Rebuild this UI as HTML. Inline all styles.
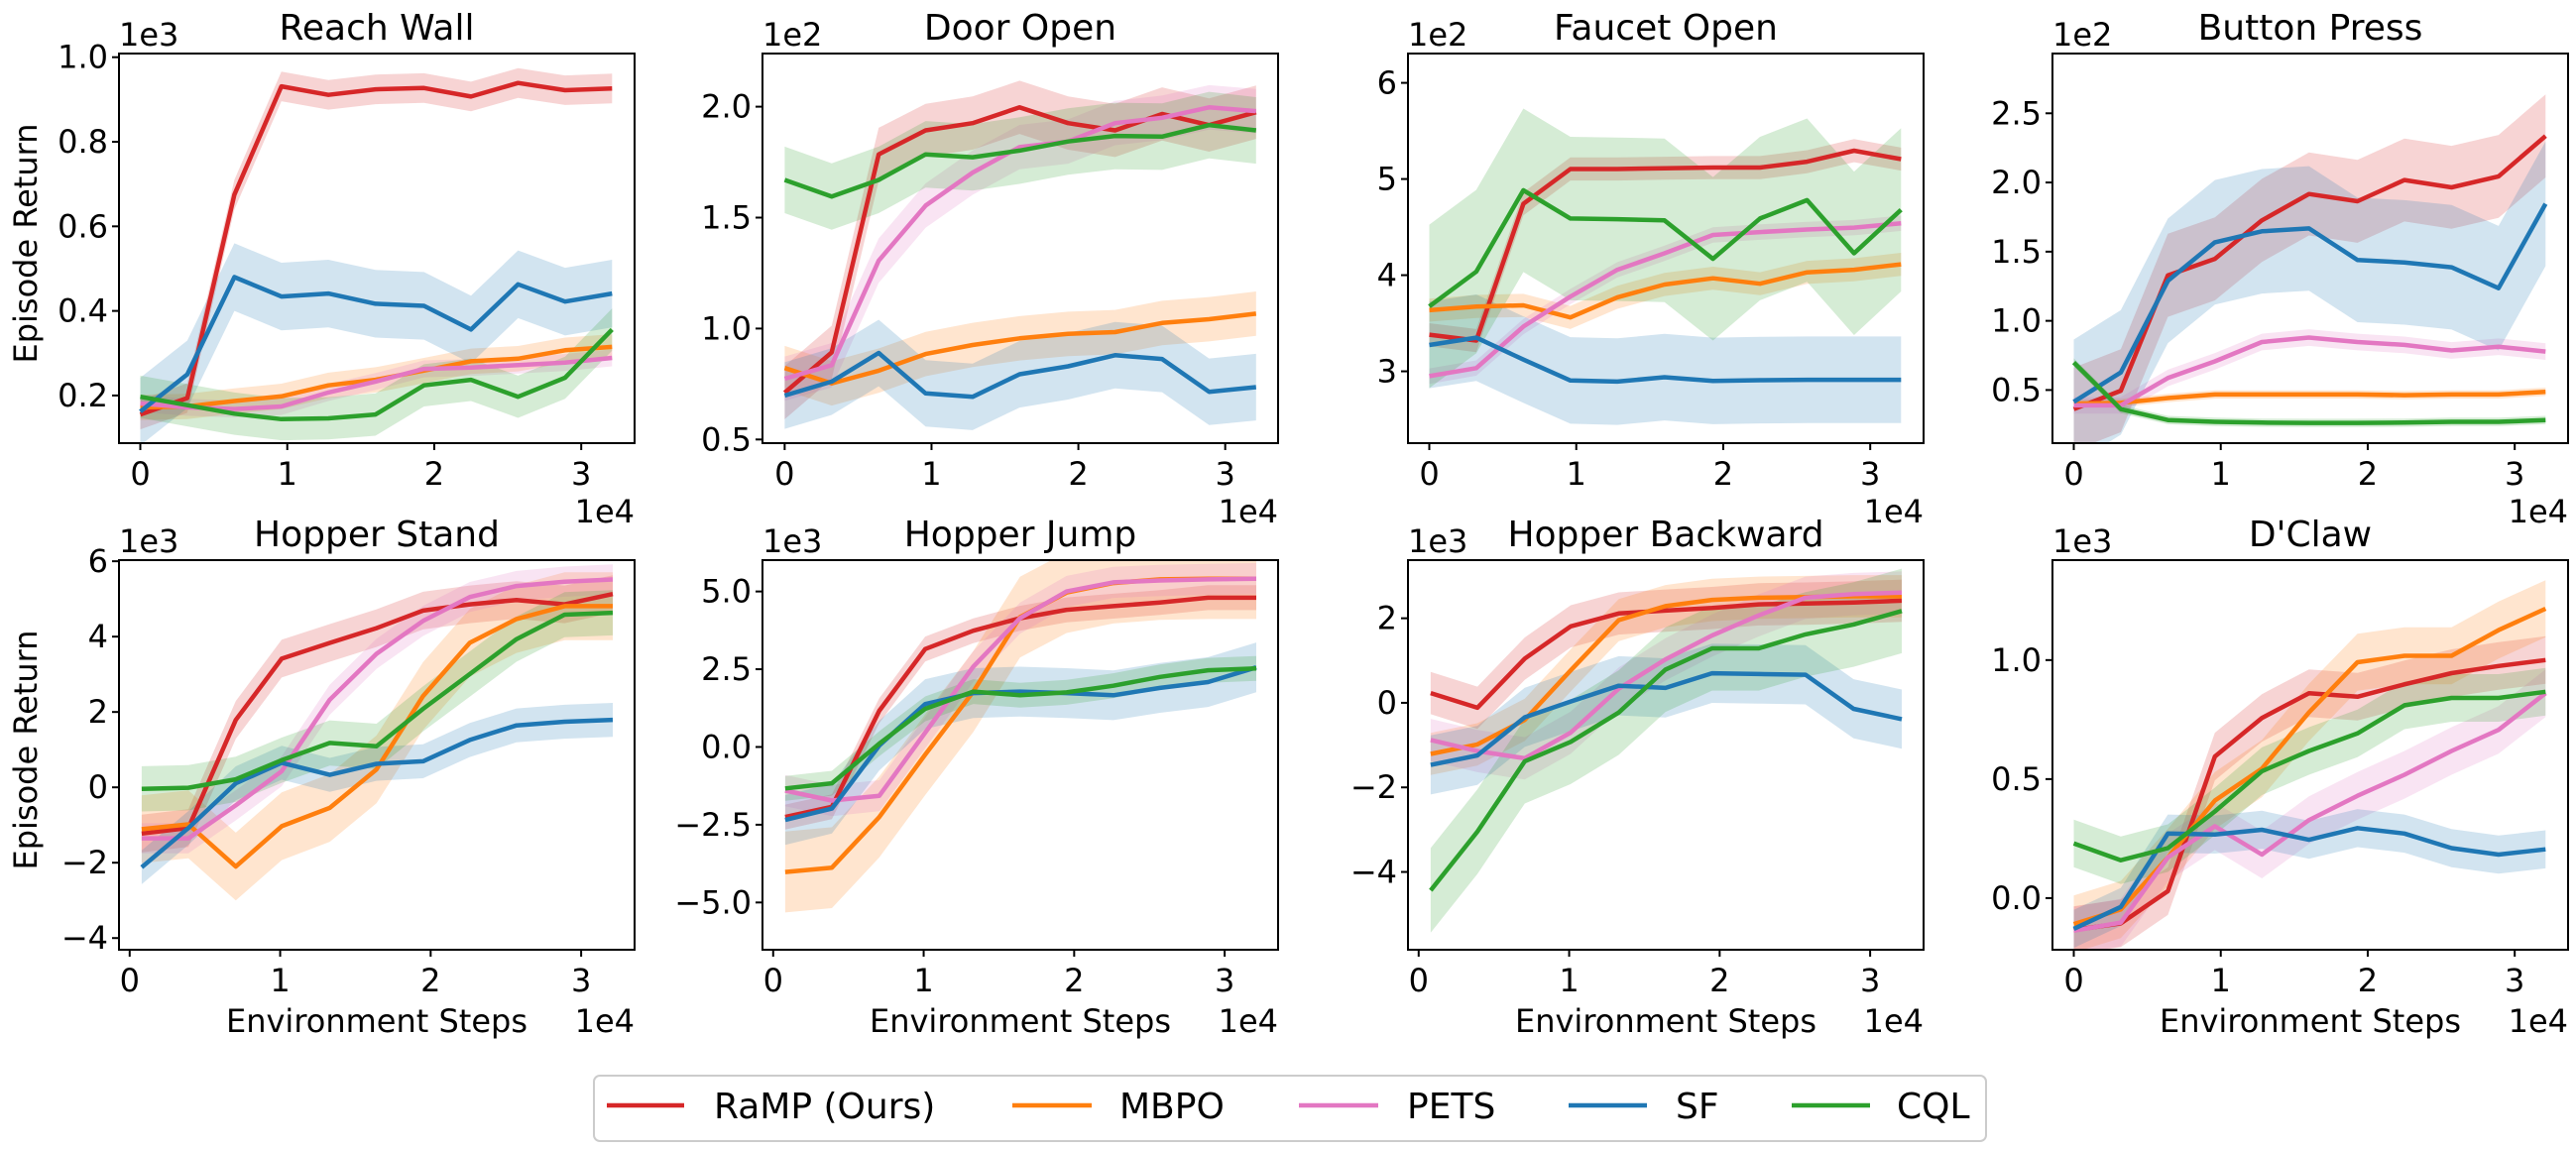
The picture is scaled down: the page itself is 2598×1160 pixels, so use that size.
<!DOCTYPE html>
<html><head><meta charset="utf-8">
<style>
html,body{margin:0;padding:0;background:#fff;}
svg{display:block;font-family:"DejaVu Sans","Liberation Sans",sans-serif;}
</style></head>
<body>
<svg id="fig" width="2598" height="1160" viewBox="0 0 2598 1160" xmlns="http://www.w3.org/2000/svg">
<rect x="0" y="0" width="2598" height="1160" fill="#ffffff"/>
<g id="legend">
<rect x="599" y="1085" width="1404" height="66" rx="6" fill="#fff" stroke="#cccccc" stroke-width="2"/>
<g><line x1="612" y1="1115" x2="690" y2="1115" stroke="#d62728" stroke-width="4.5"/><text x="720" y="1128" font-size="36">RaMP (Ours)</text></g>
<g><line x1="1021" y1="1115" x2="1101" y2="1115" stroke="#ff7f0e" stroke-width="4.5"/><text x="1129" y="1128" font-size="36">MBPO</text></g>
<g><line x1="1310" y1="1115" x2="1390" y2="1115" stroke="#e377c2" stroke-width="4.5"/><text x="1419" y="1128" font-size="36">PETS</text></g>
<g><line x1="1582" y1="1115" x2="1661" y2="1115" stroke="#1f77b4" stroke-width="4.5"/><text x="1690" y="1128" font-size="36">SF</text></g>
<g><line x1="1807" y1="1115" x2="1886" y2="1115" stroke="#2ca02c" stroke-width="4.5"/><text x="1913" y="1128" font-size="36">CQL</text></g>
</g>
</svg>
<script>
// ---- data (x in units of 1e4 steps) ----
const stepsA = [0,0.32,0.64,0.96,1.28,1.6,1.93,2.25,2.57,2.89,3.21];
const stepsHopper = [0.08,0.39,0.705,1.01,1.33,1.64,1.95,2.26,2.57,2.89,3.21];
const methods = ["RaMP (Ours)","MBPO","PETS","SF","CQL"];

// Reach Wall (x1e3)
const reachRamp = [0.155,0.194,0.675,0.931,0.911,0.924,0.927,0.907,0.939,0.922,0.926];
const reachMbpo = [0.172,0.174,0.187,0.198,0.224,0.237,0.259,0.281,0.287,0.307,0.315];
const reachPets = [0.181,0.172,0.168,0.174,0.207,0.233,0.263,0.266,0.272,0.278,0.289];
const reachSf = [0.162,0.25,0.48,0.434,0.441,0.417,0.412,0.356,0.463,0.422,0.441];
const reachCql = [0.197,0.177,0.157,0.144,0.146,0.155,0.224,0.237,0.197,0.242,0.356];
const reachBands = [0.035,0.03,0.02,0.08,0.05];
// Door Open (x1e2)
const doorRamp = [0.711,0.893,1.785,1.893,1.926,1.997,1.926,1.893,1.967,1.917,1.975];
const doorMbpo = [0.822,0.753,0.81,0.885,0.926,0.956,0.976,0.984,1.025,1.042,1.067];
const doorPets = [0.774,0.835,1.306,1.554,1.703,1.818,1.843,1.926,1.95,1.997,1.98];
const doorSf = [0.698,0.761,0.89,0.708,0.692,0.794,0.83,0.88,0.863,0.715,0.736];
const doorCql = [1.67,1.595,1.67,1.785,1.772,1.802,1.843,1.868,1.865,1.917,1.893];
const doorBands = [0.12,0.1,0.1,0.15,0.15];
// Faucet Open (x1e2)
const faucetRamp = [3.381,3.32,4.742,5.104,5.104,5.112,5.119,5.119,5.18,5.295,5.207];
const faucetMbpo = [3.636,3.674,3.686,3.56,3.77,3.903,3.968,3.911,4.029,4.056,4.113];
const faucetPets = [2.95,3.034,3.465,3.777,4.056,4.227,4.418,4.448,4.475,4.494,4.54];
const faucetSf = [3.274,3.35,3.122,2.905,2.893,2.939,2.9,2.908,2.912,2.912,2.912];
const faucetCql = [3.675,4.037,4.883,4.589,4.582,4.57,4.17,4.589,4.78,4.227,4.68];
const faucetBands = [0.12,0.12,0.08,0.45,0.85];
// Button Press (x1e2)
const buttonRamp = [0.362,0.495,1.329,1.448,1.726,1.917,1.864,2.018,1.965,2.044,2.336];
const buttonMbpo = [0.402,0.407,0.442,0.468,0.468,0.468,0.468,0.463,0.468,0.468,0.487];
const buttonPets = [0.389,0.389,0.587,0.707,0.847,0.879,0.847,0.826,0.786,0.813,0.778];
const buttonSf = [0.415,0.627,1.289,1.568,1.647,1.668,1.44,1.422,1.387,1.236,1.846];
const buttonCql = [0.699,0.362,0.283,0.27,0.264,0.262,0.262,0.264,0.27,0.27,0.283];
const buttonBands = [0.3,0.03,0.06,0.45,0.03];
// Hopper Stand (x1e3)
const standRamp = [-1.226,-1.08,1.79,3.416,3.834,4.224,4.69,4.856,4.973,4.856,5.129];
const standMbpo = [-1.11,-0.983,-2.102,-1.032,-0.545,0.477,2.423,3.835,4.467,4.808,4.808];
const standPets = [-1.353,-1.353,-0.477,0.428,2.326,3.543,4.418,5.051,5.343,5.46,5.518];
const standSf = [-2.122,-1.08,0.107,0.652,0.331,0.623,0.691,1.256,1.645,1.742,1.791];
const standCql = [-0.039,-0.01,0.214,0.72,1.178,1.09,2.083,3.007,3.932,4.584,4.633];
const standBands = [0.5,0.9,0.4,0.45,0.6];
// Hopper Jump (x1e3)
const jumpRamp = [-2.252,-1.922,1.167,3.149,3.738,4.139,4.41,4.528,4.646,4.8,4.8];
const jumpMbpo = [-4.021,-3.88,-2.252,-0.248,1.781,4.174,4.965,5.271,5.389,5.413,5.413];
const jumpPets = [-1.403,-1.722,-1.568,0.46,2.583,4.139,5.0,5.295,5.354,5.389,5.413];
const jumpSf = [-2.347,-1.981,0.047,1.38,1.734,1.781,1.734,1.663,1.899,2.087,2.559];
const jumpCql = [-1.332,-1.167,0.106,1.226,1.781,1.663,1.757,1.97,2.253,2.465,2.524];
const jumpBands = [0.4,1.3,0.5,0.8,0.4];
// Hopper Backward (x1e3)
const backRamp = [0.231,-0.116,1.046,1.809,2.113,2.182,2.243,2.33,2.347,2.373,2.416];
const backMbpo = [-1.209,-0.983,-0.402,0.768,1.957,2.286,2.434,2.486,2.503,2.52,2.52];
const backPets = [-0.879,-1.14,-1.313,-0.706,0.335,1.029,1.592,2.069,2.486,2.572,2.607];
const backSf = [-1.469,-1.244,-0.342,0.031,0.404,0.352,0.699,0.682,0.664,-0.142,-0.385];
const backCql = [-4.435,-3.048,-1.382,-0.923,-0.229,0.786,1.289,1.289,1.618,1.853,2.173];
const backBands = [0.5,0.5,0.5,0.7,1.0];
// D'Claw (x1e3)
const clawRamp = [-0.134,-0.106,0.029,0.595,0.757,0.861,0.846,0.898,0.945,0.975,1.0];
const clawMbpo = [-0.109,-0.048,0.171,0.41,0.544,0.78,0.991,1.018,1.018,1.126,1.216];
const clawPets = [-0.137,-0.103,0.171,0.302,0.183,0.328,0.43,0.518,0.618,0.707,0.861];
const clawSf = [-0.129,-0.037,0.271,0.267,0.287,0.245,0.294,0.271,0.21,0.183,0.205];
const clawCql = [0.23,0.159,0.21,0.364,0.533,0.618,0.692,0.81,0.841,0.841,0.867];
const clawBands = [0.1,0.12,0.1,0.08,0.1];

const xTicks = [0,1,2,3];
const reachTicks = [0.2,0.4,0.6,0.8,1.0], reachTickLabels = ["0.2","0.4","0.6","0.8","1.0"];
const doorTicks = [0.5,1.0,1.5,2.0], doorTickLabels = ["0.5","1.0","1.5","2.0"];
const faucetTicks = [3,4,5,6], faucetTickLabels = ["3","4","5","6"];
const buttonTicks = [0.5,1.0,1.5,2.0,2.5], buttonTickLabels = ["0.5","1.0","1.5","2.0","2.5"];
const standTicks = [-4,-2,0,2,4,6], standTickLabels = ["\u22124","\u22122","0","2","4","6"];
const jumpTicks = [-5,-2.5,0,2.5,5], jumpTickLabels = ["\u22125.0","\u22122.5","0.0","2.5","5.0"];
const backTicks = [-4,-2,0,2], backTickLabels = ["\u22124","\u22122","0","2"];
const clawTicks = [0,0.5,1.0], clawTickLabels = ["0.0","0.5","1.0"];

const colors = ["#d62728","#ff7f0e","#e377c2","#1f77b4","#2ca02c"];
const keys = ["ramp","mbpo","pets","sf","cql"];
const NS = "http://www.w3.org/2000/svg";
const svg = document.getElementById("fig");

const plots = [
 {name:"reach-wall",title:"Reach Wall",mult:"1e3",col:0,row:0,xs:stepsA,xl:[-0.145,3.363],yl:[0.0873,1.0087],t:reachTicks,tl:reachTickLabels,s:[reachRamp,reachMbpo,reachPets,reachSf,reachCql],b:reachBands},
 {name:"door-open",title:"Door Open",mult:"1e2",col:1,row:0,xs:stepsA,xl:[-0.151,3.36],yl:[0.4835,2.2395],t:doorTicks,tl:doorTickLabels,s:[doorRamp,doorMbpo,doorPets,doorSf,doorCql],b:doorBands},
 {name:"faucet-open",title:"Faucet Open",mult:"1e2",col:2,row:0,xs:stepsA,xl:[-0.145,3.363],yl:[2.253,6.305],t:faucetTicks,tl:faucetTickLabels,s:[faucetRamp,faucetMbpo,faucetPets,faucetSf,faucetCql],b:faucetBands},
 {name:"button-press",title:"Button Press",mult:"1e2",col:3,row:0,xs:stepsA,xl:[-0.145,3.363],yl:[0.116,2.932],t:buttonTicks,tl:buttonTickLabels,s:[buttonRamp,buttonMbpo,buttonPets,buttonSf,buttonCql],b:buttonBands},
 {name:"hopper-stand",title:"Hopper Stand",mult:"1e3",col:0,row:1,xs:stepsHopper,xl:[-0.071,3.355],yl:[-4.31,6.03],t:standTicks,tl:standTickLabels,s:[standRamp,standMbpo,standPets,standSf,standCql],b:standBands},
 {name:"hopper-jump",title:"Hopper Jump",mult:"1e3",col:1,row:1,xs:stepsHopper,xl:[-0.071,3.355],yl:[-6.52,6.008],t:jumpTicks,tl:jumpTickLabels,s:[jumpRamp,jumpMbpo,jumpPets,jumpSf,jumpCql],b:jumpBands},
 {name:"hopper-backward",title:"Hopper Backward",mult:"1e3",col:2,row:1,xs:stepsHopper,xl:[-0.071,3.355],yl:[-5.84,3.375],t:backTicks,tl:backTickLabels,s:[backRamp,backMbpo,backPets,backSf,backCql],b:backBands},
 {name:"dclaw",title:"D'Claw",mult:"1e3",col:3,row:1,xs:stepsA,xl:[-0.145,3.363],yl:[-0.217,1.42],t:clawTicks,tl:clawTickLabels,s:[clawRamp,clawMbpo,clawPets,clawSf,clawCql],b:clawBands}
];
const colLeft = [120,769,1420,2070], W = 520;
const rowTop = [54,565], H = 393;

function mk(tag, attrs, parent){const e=document.createElementNS(NS,tag);for(const k in attrs)e.setAttribute(k,attrs[k]);parent.appendChild(e);return e;}

plots.forEach(p=>{
  const L=colLeft[p.col], T=rowTop[p.row], R=L+W, B=T+H;
  const sx=v=>L+(v-p.xl[0])/(p.xl[1]-p.xl[0])*W;
  const sy=v=>B-(v-p.yl[0])/(p.yl[1]-p.yl[0])*H;
  const g=mk("g",{},svg);
  
  
  const cid="clip-"+p.name;
  const cp=mk("clipPath",{id:cid},g); mk("rect",{x:L,y:T,width:W,height:H},cp);
  const dg=mk("g",{"clip-path":"url(#"+cid+")"},g);
  // bands
  p.s.forEach((arr,i)=>{
    let up=arr.map((v,j)=>sx(p.xs[j]).toFixed(1)+","+sy(v+p.b[i]).toFixed(1));
    let dn=arr.map((v,j)=>sx(p.xs[j]).toFixed(1)+","+sy(v-p.b[i]).toFixed(1)).reverse();
    const poly=mk("polygon",{points:up.concat(dn).join(" "),fill:colors[i],"fill-opacity":"0.2",stroke:"none"},dg);
    
    
  });
  p.s.forEach((arr,i)=>{
    const pts=arr.map((v,j)=>sx(p.xs[j]).toFixed(1)+","+sy(v).toFixed(1)).join(" ");
    const pl=mk("polyline",{points:pts,fill:"none",stroke:colors[i],"stroke-width":"4.5","stroke-linejoin":"round"},dg);
    
    
  });
  const frame=mk("rect",{x:L,y:T,width:W,height:H,fill:"none",stroke:"#000","stroke-width":"2"},g);
  
  
  // x ticks
  xTicks.forEach(t=>{
    const x=sx(t);
    mk("line",{x1:x,y1:B,x2:x,y2:B+7,stroke:"#000","stroke-width":"2"},g);
    const tx=mk("text",{x:x,y:B+42,"font-size":"32","text-anchor":"middle"},g);
    tx.textContent=String(t);
    
    
  });
  p.t.forEach((t,k)=>{
    const y=sy(t);
    mk("line",{x1:L-7,y1:y,x2:L,y2:y,stroke:"#000","stroke-width":"2"},g);
    const tx=mk("text",{x:L-11,y:y+11,"font-size":"32","text-anchor":"end"},g);
    tx.textContent=p.tl[k];
    
    
  });
  const ti=mk("text",{x:(L+R)/2,y:T-14,"font-size":"36","text-anchor":"middle"},g);
  ti.textContent=p.title;
  
  
  const mu=mk("text",{x:L,y:T-8,"font-size":"32"},g);
  mu.textContent=p.mult;
  
  
  const xm=mk("text",{x:R,y:B+(p.row?83:80),"font-size":"32","text-anchor":"end"},g);
  xm.textContent="1e4";
  
  
  if(p.row===1){
    const xl=mk("text",{x:(L+R)/2,y:B+83,"font-size":"32","text-anchor":"middle"},g);
    xl.textContent="Environment Steps";
    
    
  }
  if(p.col===0){
    const cy=(T+B)/2-5;
    const yl=mk("text",{x:0,y:0,"font-size":"32","text-anchor":"middle",transform:"translate(37,"+cy+") rotate(-90)"},g);
    yl.textContent="Episode Return";
    
    
  }
});
svg.appendChild(document.getElementById("legend"));
</script>
</body></html>
